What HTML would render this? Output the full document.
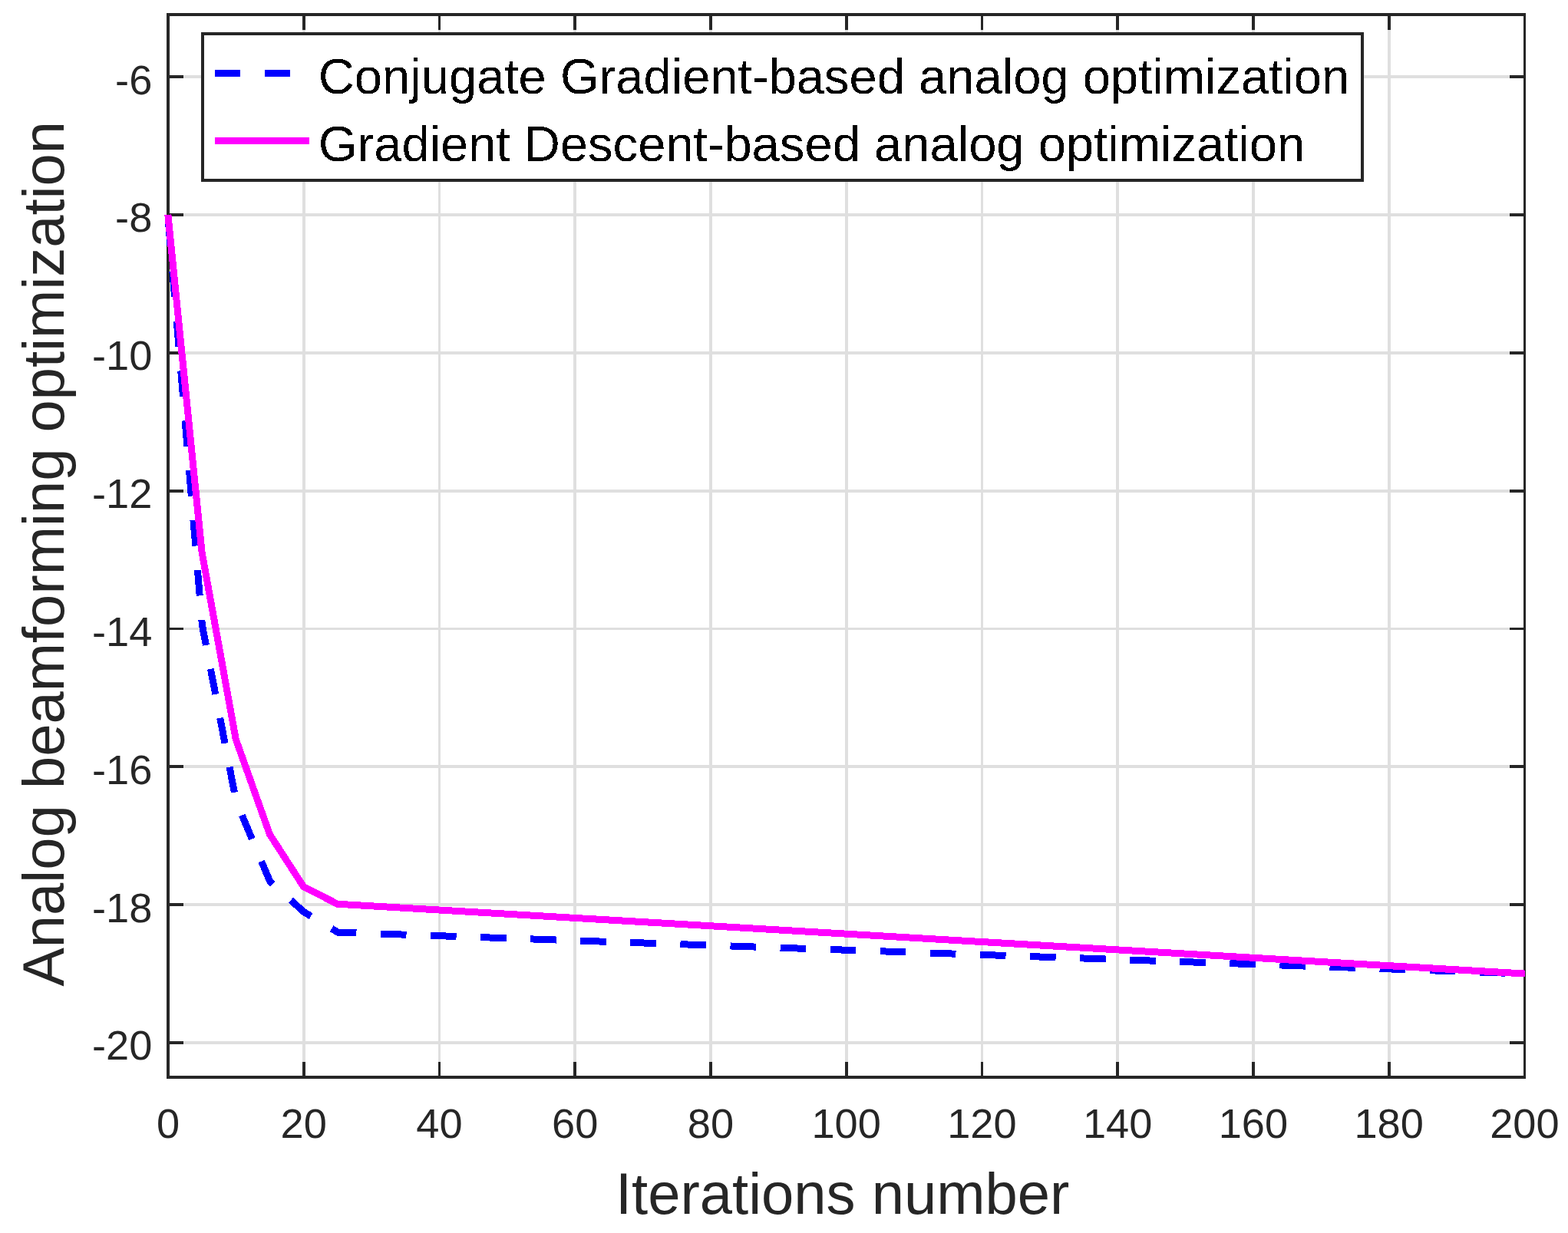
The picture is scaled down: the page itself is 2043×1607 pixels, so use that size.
<!DOCTYPE html>
<html lang="en">
<head>
<meta charset="utf-8">
<title>Analog beamforming optimization</title>
<style>
html, body { margin: 0; padding: 0; background: #ffffff; }
body { width: 2043px; height: 1607px; overflow: hidden; }
svg { display: block; }
text { font-family: 'Liberation Sans', Arial, Helvetica, sans-serif; }
</style>
</head>
<body>
<svg width="2043" height="1607" viewBox="0 0 2043 1607">
<defs>
<filter id="crisp" x="410" y="56" width="1356" height="172" filterUnits="userSpaceOnUse" color-interpolation-filters="sRGB">
<feComponentTransfer><feFuncA type="discrete" tableValues="0 1"/></feComponentTransfer>
</filter>
</defs>
<rect x="0" y="0" width="2043" height="1607" fill="#ffffff"/>
<g shape-rendering="crispEdges">
<rect x="394" y="21" width="4" height="1381" fill="#dfdfdf"/>
<rect x="571" y="21" width="3" height="1381" fill="#dfdfdf"/>
<rect x="747" y="21" width="4" height="1381" fill="#dfdfdf"/>
<rect x="924" y="21" width="4" height="1381" fill="#dfdfdf"/>
<rect x="1101" y="21" width="4" height="1381" fill="#dfdfdf"/>
<rect x="1278" y="21" width="3" height="1381" fill="#dfdfdf"/>
<rect x="1454" y="21" width="4" height="1381" fill="#dfdfdf"/>
<rect x="1631" y="21" width="4" height="1381" fill="#dfdfdf"/>
<rect x="1808" y="21" width="4" height="1381" fill="#dfdfdf"/>
<rect x="221" y="98" width="1764" height="4" fill="#dfdfdf"/>
<rect x="221" y="278" width="1764" height="4" fill="#dfdfdf"/>
<rect x="221" y="458" width="1764" height="4" fill="#dfdfdf"/>
<rect x="221" y="638" width="1764" height="4" fill="#dfdfdf"/>
<rect x="221" y="818" width="1764" height="3" fill="#dfdfdf"/>
<rect x="221" y="997" width="1764" height="4" fill="#dfdfdf"/>
<rect x="221" y="1177" width="1764" height="4" fill="#dfdfdf"/>
<rect x="221" y="1357" width="1764" height="4" fill="#dfdfdf"/>
<rect x="217" y="17" width="1771" height="4" fill="#262626"/>
<rect x="217" y="1402" width="1771" height="4" fill="#262626"/>
<rect x="217" y="17" width="4" height="1389" fill="#262626"/>
<rect x="1985" y="17" width="3" height="1389" fill="#262626"/>
<rect x="394" y="21" width="4" height="18" fill="#262626"/>
<rect x="394" y="1384" width="4" height="18" fill="#262626"/>
<rect x="571" y="21" width="3" height="18" fill="#262626"/>
<rect x="571" y="1384" width="3" height="18" fill="#262626"/>
<rect x="747" y="21" width="4" height="18" fill="#262626"/>
<rect x="747" y="1384" width="4" height="18" fill="#262626"/>
<rect x="924" y="21" width="4" height="18" fill="#262626"/>
<rect x="924" y="1384" width="4" height="18" fill="#262626"/>
<rect x="1101" y="21" width="4" height="18" fill="#262626"/>
<rect x="1101" y="1384" width="4" height="18" fill="#262626"/>
<rect x="1278" y="21" width="3" height="18" fill="#262626"/>
<rect x="1278" y="1384" width="3" height="18" fill="#262626"/>
<rect x="1454" y="21" width="4" height="18" fill="#262626"/>
<rect x="1454" y="1384" width="4" height="18" fill="#262626"/>
<rect x="1631" y="21" width="4" height="18" fill="#262626"/>
<rect x="1631" y="1384" width="4" height="18" fill="#262626"/>
<rect x="1808" y="21" width="4" height="18" fill="#262626"/>
<rect x="1808" y="1384" width="4" height="18" fill="#262626"/>
<rect x="221" y="98" width="18" height="4" fill="#262626"/>
<rect x="1967" y="98" width="18" height="4" fill="#262626"/>
<rect x="221" y="278" width="18" height="4" fill="#262626"/>
<rect x="1967" y="278" width="18" height="4" fill="#262626"/>
<rect x="221" y="458" width="18" height="4" fill="#262626"/>
<rect x="1967" y="458" width="18" height="4" fill="#262626"/>
<rect x="221" y="638" width="18" height="4" fill="#262626"/>
<rect x="1967" y="638" width="18" height="4" fill="#262626"/>
<rect x="221" y="818" width="18" height="3" fill="#262626"/>
<rect x="1967" y="818" width="18" height="3" fill="#262626"/>
<rect x="221" y="997" width="18" height="4" fill="#262626"/>
<rect x="1967" y="997" width="18" height="4" fill="#262626"/>
<rect x="221" y="1177" width="18" height="4" fill="#262626"/>
<rect x="1967" y="1177" width="18" height="4" fill="#262626"/>
<rect x="221" y="1357" width="18" height="4" fill="#262626"/>
<rect x="1967" y="1357" width="18" height="4" fill="#262626"/>
</g>
<g shape-rendering="crispEdges">
<polyline points="218.65,279.86 263.44,814.93 307.62,1044.25 351.81,1149.02 396.00,1188.59 440.19,1215.11 1986.75,1269.07" fill="none" stroke="#0000ff" stroke-width="9" stroke-dasharray="33.6 31.525" stroke-dashoffset="56.325" stroke-linejoin="round"/>
<polyline points="218.85,279.86 263.04,719.61 307.23,963.31 351.41,1087.42 395.60,1155.76 439.79,1178.24 1986.75,1269.07" fill="none" stroke="#ff00ff" stroke-width="9" stroke-linejoin="round"/>
</g>
<g shape-rendering="crispEdges">
<rect x="264" y="44" width="1511" height="191" fill="#fff" stroke="#262626" stroke-width="4"/>
<rect x="280" y="91" width="33" height="9" fill="#0000ff"/>
<rect x="345" y="91" width="33" height="9" fill="#0000ff"/>
<rect x="280" y="179" width="123" height="9" fill="#ff00ff"/>
</g>
<g filter="url(#crisp)">
<text x="414.8" y="122" font-size="65.15" fill="#000">Conjugate Gradient-based analog optimization</text>
<text x="414.8" y="210" font-size="65.15" fill="#000">Gradient Descent-based analog optimization</text>
</g>
<g>
<text x="218.95" y="1483" font-size="54.2" text-anchor="middle" fill="#262626">0</text>
<text x="395.70" y="1483" font-size="54.2" text-anchor="middle" fill="#262626">20</text>
<text x="572.45" y="1483" font-size="54.2" text-anchor="middle" fill="#262626">40</text>
<text x="749.20" y="1483" font-size="54.2" text-anchor="middle" fill="#262626">60</text>
<text x="925.95" y="1483" font-size="54.2" text-anchor="middle" fill="#262626">80</text>
<text x="1102.70" y="1483" font-size="54.2" text-anchor="middle" fill="#262626">100</text>
<text x="1279.45" y="1483" font-size="54.2" text-anchor="middle" fill="#262626">120</text>
<text x="1456.20" y="1483" font-size="54.2" text-anchor="middle" fill="#262626">140</text>
<text x="1632.95" y="1483" font-size="54.2" text-anchor="middle" fill="#262626">160</text>
<text x="1809.70" y="1483" font-size="54.2" text-anchor="middle" fill="#262626">180</text>
<text x="1986.45" y="1483" font-size="54.2" text-anchor="middle" fill="#262626">200</text>
<text x="198.3" y="123" font-size="54.2" text-anchor="end" fill="#262626">-6</text>
<text x="198.3" y="302" font-size="54.2" text-anchor="end" fill="#262626">-8</text>
<text x="198.3" y="482" font-size="54.2" text-anchor="end" fill="#262626">-10</text>
<text x="198.3" y="662" font-size="54.2" text-anchor="end" fill="#262626">-12</text>
<text x="198.3" y="842" font-size="54.2" text-anchor="end" fill="#262626">-14</text>
<text x="198.3" y="1022" font-size="54.2" text-anchor="end" fill="#262626">-16</text>
<text x="198.3" y="1202" font-size="54.2" text-anchor="end" fill="#262626">-18</text>
<text x="198.3" y="1381" font-size="54.2" text-anchor="end" fill="#262626">-20</text>
<text x="1097.7" y="1582" font-size="76" text-anchor="middle" fill="#262626">Iterations number</text>
<text transform="translate(82.8,721.9) rotate(-90)" font-size="76" text-anchor="middle" fill="#262626">Analog beamforming optimization</text>
</g>
</svg>
</body>
</html>
